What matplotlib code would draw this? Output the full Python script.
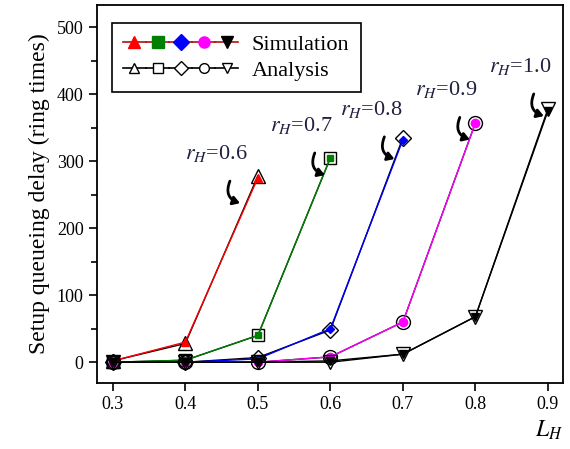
import matplotlib
matplotlib.use("Agg")
import matplotlib.pyplot as plt
from matplotlib.lines import Line2D
from matplotlib.legend_handler import HandlerTuple
from matplotlib.ticker import MultipleLocator

plt.rcParams["font.family"] = ["Liberation Serif", "DejaVu Serif"]
plt.rcParams["mathtext.fontset"] = "stix"

# data
load = [0.3, 0.4, 0.5, 0.6, 0.7, 0.8, 0.9]
r_h = ["0.6", "0.7", "0.8", "0.9", "1.0"]
sim = [
    [2, 30, 275],
    [0, 3, 40, 305],
    [0, 0, 5, 50, 332],
    [0, 0, 0, 8, 60, 357],
    [0, 0, 0, 2, 12, 68, 375],
]
ana = [
    [2, 28, 278],
    [0, 3, 40, 305],
    [0, 0, 7, 48, 335],
    [0, 0, 0, 8, 60, 357],
    [0, 0, 0, 0, 12, 68, 378],
]
colors = ["red", "green", "blue", "magenta", "black"]
markers = ["^", "s", "D", "o", "v"]
sizes = [8, 7, 6, 8, 8]
# label anchor (x, y) for each rH text
label_pos = [(0.443, 296), (0.56, 338), (0.656, 362), (0.76, 391), (0.862, 426)]

fig, ax = plt.subplots(figsize=(5.7, 4.49), dpi=100)
fig.subplots_adjust(left=0.17, right=0.988, bottom=0.147, top=0.989)

for i in range(5):
    xs = load[:len(sim[i])]
    ax.plot(xs, ana[i], color="black", lw=1, marker=markers[i], ms=sizes[i] + 2,
            mfc="none", mec="black", mew=1)
    ax.plot(xs, sim[i], color=colors[i], lw=1, marker=markers[i], ms=sizes[i] - 2,
            mfc=colors[i], mec=colors[i])
    lx, ly = label_pos[i]
    ax.text(lx, ly, r"$r_H$=" + r_h[i], fontsize=16, ha="center", va="bottom",
            color="#202040")
    ax.annotate("", xy=(lx + 0.036, ly - 60), xytext=(lx + 0.02, ly - 22),
                arrowprops=dict(arrowstyle="-|>,head_width=0.25,head_length=0.4",
                                color="black", lw=2,
                                connectionstyle="arc3,rad=0.6"))

ax.set_xlim(0.278, 0.921)
ax.set_ylim(-31, 533)
ax.set_xticks(load)
ax.set_xticklabels([f"{v:.1f}" for v in load])
ax.yaxis.set_major_locator(MultipleLocator(100))
ax.yaxis.set_minor_locator(MultipleLocator(50))
ax.tick_params(axis="both", labelsize=13, direction="out", length=6, width=1.2)
ax.tick_params(axis="y", which="minor", direction="out", length=4, width=1.2)
for s in ax.spines.values():
    s.set_linewidth(1.3)

ax.set_ylabel("Setup queueing delay (ring times)", fontsize=17, labelpad=5)
ax.set_xlabel(r"$L_H$", fontsize=17, loc="right")

sim_handles = tuple(
    Line2D([], [], color="#b01010", lw=1.2, marker=m, ms=8, mfc=c, mec=c)
    for m, c in zip(markers, colors)
)
ana_handles = tuple(
    Line2D([], [], color="black", lw=1.2, marker=m, ms=7, mfc="white", mec="black")
    for m in markers
)
leg = ax.legend([sim_handles, ana_handles], ["Simulation", "Analysis"],
                handler_map={tuple: HandlerTuple(ndivide=None, pad=0)},
                loc="upper left", bbox_to_anchor=(0.032, 0.952), fontsize=16,
                handlelength=5.2, fancybox=False, edgecolor="black",
                framealpha=1, borderpad=0.5, labelspacing=0.25, handletextpad=0.6,
                borderaxespad=0)
leg.get_frame().set_linewidth(1.2)

fig.savefig("out.png", dpi=100)
